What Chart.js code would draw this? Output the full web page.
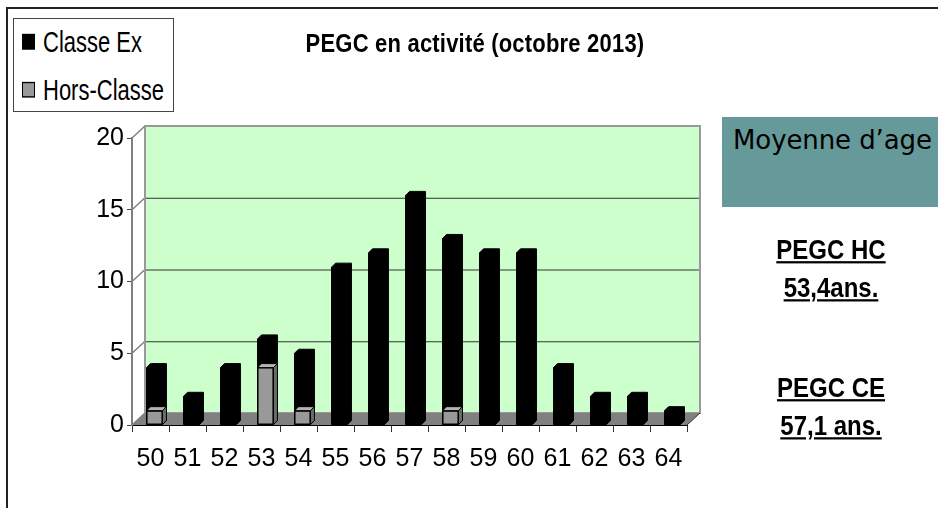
<!DOCTYPE html>
<html>
<head>
<meta charset="utf-8">
<script src="https://cdn.jsdelivr.net/npm/chart.js@4.4.0/dist/chart.umd.min.js"></script>
<style>
  html, body { margin: 0; padding: 0; background: #fff; }
  #wrap { position: relative; width: 938px; height: 508px; overflow: hidden; }
  #wrap canvas { position: absolute; left: 0; top: 0; }
  .frameTop { position: absolute; left: 6px; top: 7px; width: 932px; height: 2px; background: #222; }
  .frameLeft { position: absolute; left: 6px; top: 7px; width: 2px; height: 501px; background: #222; }
  #title { position: absolute; left: 0; width: 950px; top: 31px; text-align: center;
    font: bold 22px 'Liberation Sans', Arial, sans-serif; color: #000; letter-spacing: 0.2px;
    transform: scaleY(1.2); }
  #legend { position: absolute; left: 13px; top: 18px; width: 159px; height: 92px;
    border: 1px solid #444; background: #fff; }
  .lg { position: absolute; left: 8px; font: 22px 'Liberation Sans', Arial, sans-serif; color: #000;
    white-space: nowrap; transform: scaleY(1.3); transform-origin: left center; }
  .lg span { display: inline-block; width: 11px; height: 10px; border: 1px solid #000; margin-right: 8px; vertical-align: 2px; }
  #panel { position: absolute; left: 722px; top: 117px; width: 216px; height: 90px; background: #669999; }
  #panel div { position: absolute; left: 11px; top: 8px; font: 26px 'DejaVu Sans', sans-serif; color: #000; white-space: nowrap; letter-spacing: -0.1px; }
  .avg { position: absolute; left: 722px; width: 218px; text-align: center;
    font: bold 24px 'Liberation Sans', Arial, sans-serif; color: #000; text-decoration: underline; line-height: 34px;
    transform: scaleY(1.12); }
</style>
</head>
<body>
<div id="wrap">
  <canvas id="c" width="938" height="508"></canvas>
  <div class="frameTop"></div>
  <div class="frameLeft"></div>
  <div id="title">PEGC en activité (octobre 2013)</div>
  <div id="legend">
    <div class="lg" style="top:11px"><span style="background:#000"></span>Classe Ex</div>
    <div class="lg" style="top:59px"><span style="background:#999"></span>Hors-Classe</div>
  </div>
  <div id="panel"><div>Moyenne d’age</div></div>
  <div class="avg" style="top:235px">PEGC HC<br>53,4ans.</div>
  <div class="avg" style="top:373px">PEGC CE<br>57,1 ans.</div>
</div>
<script>
const ages = ['50', '51', '52', '53', '54', '55', '56', '57', '58', '59', '60', '61', '62', '63', '64'];
const classeEx = [4, 2, 4, 6, 5, 11, 12, 16, 13, 12, 12, 4, 2, 2, 1];
const horsClasse = [1, 0, 0, 4, 1, 0, 0, 0, 1, 0, 0, 0, 0, 0, 0];
const yMin = 0, yMax = 20, yStep = 5;

const DEPTH_X = 13, DEPTH_Y = 12;   // back wall offset
const BAR_D = 4;                   // bar depth
const BAR_SHIFT = 4;
const sans = "'Liberation Sans', Arial, sans-serif";

// green back wall, grid lines on it, floor and connectors
const wallPlugin = {
  id: 'wall',
  beforeDatasetsDraw(chart) {
    const { ctx, chartArea: a, scales: { y } } = chart;
    ctx.save();
    ctx.fillStyle = '#ccffcc';
    ctx.fillRect(a.left + DEPTH_X, a.top - DEPTH_Y, a.right - a.left, a.bottom - a.top);
    for (let v = yMin; v <= yMax; v += yStep) {
      const py = y.getPixelForValue(v);
      if (v > yMin && v < yMax) {
        ctx.strokeStyle = '#333';
        ctx.lineWidth = 1;
        ctx.beginPath();
        ctx.moveTo(a.left + DEPTH_X, py - DEPTH_Y + 0.5);
        ctx.lineTo(a.right + DEPTH_X, py - DEPTH_Y + 0.5);
        ctx.stroke();
      }
      ctx.strokeStyle = '#808080';
      ctx.lineWidth = 1.5;
      ctx.beginPath();
      ctx.moveTo(a.left, py);
      ctx.lineTo(a.left + DEPTH_X, py - DEPTH_Y);
      ctx.stroke();
    }
    // wall border
    ctx.strokeStyle = '#999';
    ctx.lineWidth = 2;
    ctx.strokeRect(a.left + DEPTH_X, a.top - DEPTH_Y, a.right - a.left, a.bottom - a.top);
    // floor
    ctx.fillStyle = '#808080';
    ctx.beginPath();
    ctx.moveTo(a.left, a.bottom);
    ctx.lineTo(a.right, a.bottom);
    ctx.lineTo(a.right + DEPTH_X, a.bottom - DEPTH_Y);
    ctx.lineTo(a.left + DEPTH_X, a.bottom - DEPTH_Y);
    ctx.closePath();
    ctx.fill();
    ctx.strokeStyle = '#333';
    ctx.lineWidth = 1;
    ctx.beginPath();
    ctx.moveTo(a.right, a.bottom);
    ctx.lineTo(a.right + DEPTH_X, a.bottom - DEPTH_Y);
    ctx.stroke();
    ctx.restore();

    ctx.save();
    ctx.translate(BAR_SHIFT, 0);
  },
  afterDatasetDraw(chart, args) {
    const { ctx } = chart;
    const ds = chart.data.datasets[args.index];
    const grey = ds.label === 'Hors-Classe';
    args.meta.data.forEach((bar, i) => {
      if (!ds.data[i]) return;
      const { x, y, base, width } = bar.getProps(['x', 'y', 'base', 'width'], true);
      const x0 = x - width / 2, x1 = x + width / 2;
      ctx.lineWidth = 1;
      ctx.strokeStyle = '#000';
      ctx.lineJoin = 'round';
      if (!grey) {
        // one solid black outline: front + top + side
        ctx.fillStyle = '#000';
        ctx.beginPath();
        ctx.moveTo(x0, base);
        ctx.lineTo(x0, y);
        ctx.lineTo(x0 + BAR_D, y - BAR_D);
        ctx.lineTo(x1 + BAR_D, y - BAR_D);
        ctx.lineTo(x1 + BAR_D, base - BAR_D);
        ctx.lineTo(x1, base);
        ctx.closePath();
        ctx.fill();
        ctx.stroke();
        return;
      }
      // top
      ctx.fillStyle = '#b4b4b4';
      ctx.beginPath();
      ctx.moveTo(x0, y);
      ctx.lineTo(x0 + BAR_D, y - BAR_D);
      ctx.lineTo(x1 + BAR_D, y - BAR_D);
      ctx.lineTo(x1, y);
      ctx.closePath();
      ctx.fill();
      ctx.stroke();
      // side
      ctx.fillStyle = '#6a6a6a';
      ctx.beginPath();
      ctx.moveTo(x1, y);
      ctx.lineTo(x1 + BAR_D, y - BAR_D);
      ctx.lineTo(x1 + BAR_D, base - BAR_D);
      ctx.lineTo(x1, base);
      ctx.closePath();
      ctx.fill();
      ctx.stroke();
    });
  },
  afterDatasetsDraw(chart) {
    chart.ctx.restore();
  }
};

new Chart(document.getElementById('c'), {
  type: 'bar',
  data: {
    labels: ages,
    datasets: [
      { label: 'Classe Ex', data: classeEx, backgroundColor: '#000', order: 2,
        grouped: false, barPercentage: 0.43, categoryPercentage: 1, clip: false },
      { label: 'Hors-Classe', data: horsClasse, backgroundColor: '#999999', borderColor: '#000',
        borderWidth: c => (c.raw > 0 ? 1 : 0), borderSkipped: false, order: 1,
        grouped: false, barPercentage: 0.43, categoryPercentage: 1, clip: false }
    ]
  },
  options: {
    responsive: false,
    animation: false,
    devicePixelRatio: 1,
    layout: { padding: { left: 0, top: 138, right: 251, bottom: 0 } },
    plugins: { legend: { display: false }, title: { display: false }, tooltip: { enabled: false } },
    scales: {
      x: {
        afterFit: s => { s.height = 83; },
        grid: { drawOnChartArea: false, drawTicks: true, tickLength: 7, color: '#333', offset: true },
        border: { color: '#000', width: 1 },
        ticks: { color: '#000', font: { family: sans, size: 25 }, padding: 12, maxRotation: 0, autoSkip: false }
      },
      y: {
        min: yMin, max: yMax,
        afterFit: s => { s.width = 132; },
        grid: { drawOnChartArea: false, drawTicks: true, tickLength: 5, color: '#444' },
        border: { color: '#808080', width: 2 },
        ticks: { stepSize: yStep, color: '#000', font: { family: sans, size: 25 }, padding: 3 }
      }
    }
  },
  plugins: [wallPlugin]
});
</script>
</body>
</html>
